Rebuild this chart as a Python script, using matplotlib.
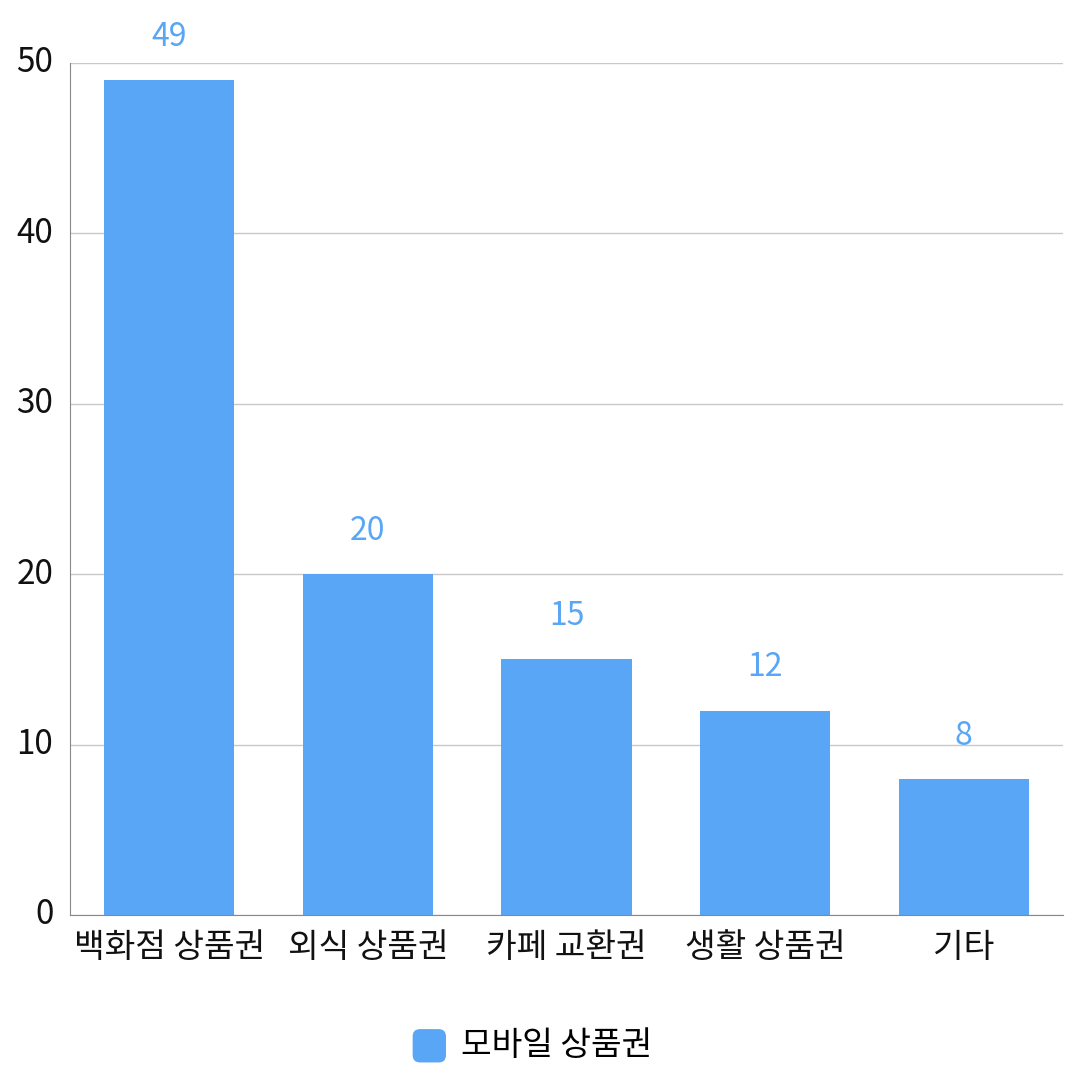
import matplotlib
matplotlib.use("Agg")
import matplotlib.pyplot as plt
import matplotlib.transforms as mtransforms
from matplotlib.patches import FancyBboxPatch
from matplotlib.legend_handler import HandlerPatch

plt.rcParams["font.family"] = ["Noto Sans CJK KR", "DejaVu Sans"]

categories = ["백화점 상품권", "외식 상품권", "카페 교환권", "생활 상품권", "기타"]
values = [49, 20, 15, 12, 8]
series_name = "모바일 상품권"
yticks = [0, 10, 20, 30, 40, 50]

BAR = "#58a6f5"


class RoundSquare(HandlerPatch):
    def create_artists(self, legend, orig_handle, xdescent, ydescent,
                       width, height, fontsize, trans):
        s = min(width, height * 1.25)
        p = FancyBboxPatch((-xdescent + (width - s) / 2, -ydescent - s * 0.12), s, s,
                           boxstyle="round,pad=0,rounding_size=%f" % (s * 0.22),
                           facecolor=BAR, edgecolor="none", transform=trans)
        return [p]


fig = plt.figure(figsize=(10.8, 10.8), dpi=100)
ax = fig.add_axes([70 / 1080, 165 / 1080, 993 / 1080, 852 / 1080])

x = list(range(len(categories)))
bars = ax.bar(x, values, width=0.655, color=BAR, zorder=2, label=series_name)
for xi, v in zip(x, values):
    ax.annotate(str(v), (xi, v), xytext=(0, 31), textcoords="offset points",
                ha="center", va="center", fontsize=23, color=BAR)

ax.set_xlim(-0.5, len(categories) - 0.5)
ax.set_ylim(0, 50)
ax.set_yticks(yticks)
ax.set_xticks(x)
ax.set_xticklabels(categories)
ax.tick_params(axis="both", length=0, labelsize=24, colors="#111111")
ax.tick_params(axis="y", pad=12)
ax.tick_params(axis="x", pad=11)
shift = mtransforms.ScaledTranslation(0, 3 / 72, fig.dpi_scale_trans)
for lab in ax.get_yticklabels():
    lab.set_transform(lab.get_transform() + shift)
ax.yaxis.grid(True, color="#c8c8c8", lw=1, zorder=0)
for s in ("top", "right"):
    ax.spines[s].set_visible(False)
ax.spines["left"].set_color("#888888")
ax.spines["bottom"].set_color("#888888")

fig.legend(handles=[bars], labels=[series_name], loc="center",
           bbox_to_anchor=(0.493, 0.032), frameon=False, fontsize=24,
           handlelength=1.0, handleheight=1.0, handletextpad=0.45,
           handler_map={type(bars.patches[0]): RoundSquare(),
                        type(bars): RoundSquare()})

fig.savefig("out.png", dpi=100, facecolor="white")
